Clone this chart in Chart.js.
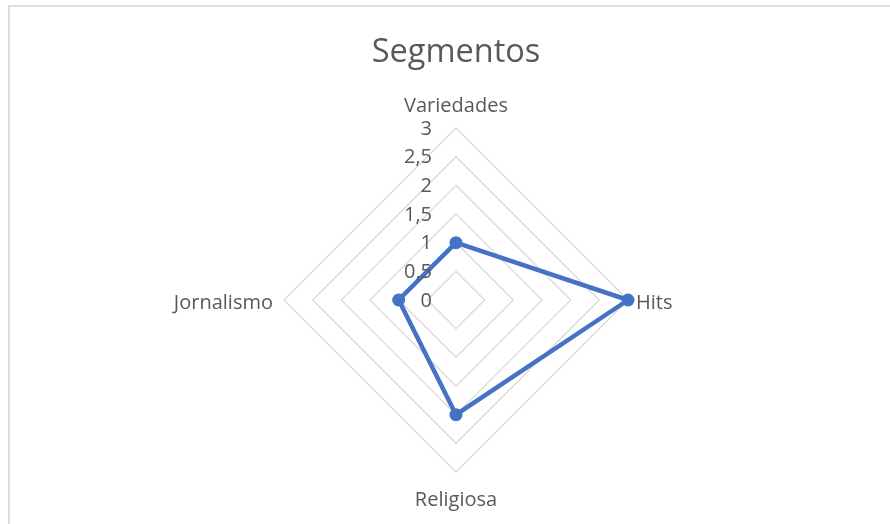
<!DOCTYPE html>
<html>
<head>
<meta charset="utf-8">
<script src="https://cdn.jsdelivr.net/npm/chart.js@4.4.0/dist/chart.umd.min.js"></script>
<style>
html,body{margin:0;padding:0;background:#fff;}
#wrap{position:relative;width:890px;height:524px;overflow:hidden;}
#frame{position:absolute;left:8px;top:5px;width:900px;height:600px;border-left:2px solid #DEDEDE;border-top:2px solid #DEDEDE;box-sizing:border-box;}
canvas{position:absolute;left:0;top:0;}
</style>
</head>
<body>
<div id="wrap">
<div id="frame"></div>
<canvas id="c" width="890" height="524"></canvas>
</div>
<script>
const categories = ["Variedades", "Hits", "Religiosa", "Jornalismo"];
const seriesValues = [1, 3, 2, 1];
const tickValues = [0, 0.5, 1, 1.5, 2, 2.5, 3];
const tickLabels = ["0", "0,5", "1", "1,5", "2", "2,5", "3"];

const FONT = "'Open Sans', Lato, sans-serif";
const TXT = "#595959";

const labelPlugin = {
  id: 'customLabels',
  afterDraw(chart) {
    const s = chart.scales.r;
    const ctx = chart.ctx;
    ctx.save();
    ctx.fillStyle = TXT;
    ctx.font = "20px " + FONT;
    ctx.textBaseline = "middle";
    // tick labels to the left of vertical axis
    ctx.textAlign = "right";
    tickValues.forEach((v, i) => {
      const d = s.getDistanceFromCenterForValue(v);
      ctx.fillText(tickLabels[i], s.xCenter - 24, s.yCenter - d + 1);
    });
    // point labels
    const maxD = s.getDistanceFromCenterForValue(3);
    categories.forEach((c, i) => {
      const p = s.getPointPosition(i, maxD);
      let x = p.x, y = p.y;
      if (i === 0) { ctx.textAlign = "center"; y -= 22; }
      else if (i === 1) { ctx.textAlign = "left"; x += 8; y += 3; }
      else if (i === 2) { ctx.textAlign = "center"; y += 28; }
      else { ctx.textAlign = "right"; x -= 11; y += 3; }
      ctx.fillText(c, x, y);
    });
    ctx.restore();
  }
};

new Chart(document.getElementById('c'), {
  type: 'radar',
  data: {
    labels: categories,
    datasets: [{
      label: 'Segmentos',
      data: seriesValues,
      borderColor: '#4472C4',
      backgroundColor: '#4472C4',
      borderWidth: 4.5,
      pointRadius: 6.5,
      pointHoverRadius: 6.5,
      pointBackgroundColor: '#4472C4',
      pointBorderWidth: 0,
      fill: false,
      tension: 0
    }]
  },
  options: {
    responsive: false,
    animation: false,
    layout: { padding: { left: 284, right: 262, top: 0, bottom: 52 } },
    plugins: {
      legend: { display: false },
      tooltip: { enabled: false },
      title: {
        display: true,
        text: 'Segmentos',
        color: TXT,
        font: { family: FONT, size: 32.5, weight: 'normal', lineHeight: 1.2 },
        padding: { top: 33, bottom: 56 }
      }
    },
    scales: {
      r: {
        min: 0, max: 3,
        ticks: { display: false, stepSize: 0.5 },
        pointLabels: { display: false },
        angleLines: { display: false },
        grid: { color: '#D9D9D9', lineWidth: 1.3 }
      }
    }
  },
  plugins: [labelPlugin]
});
</script>
</body>
</html>
